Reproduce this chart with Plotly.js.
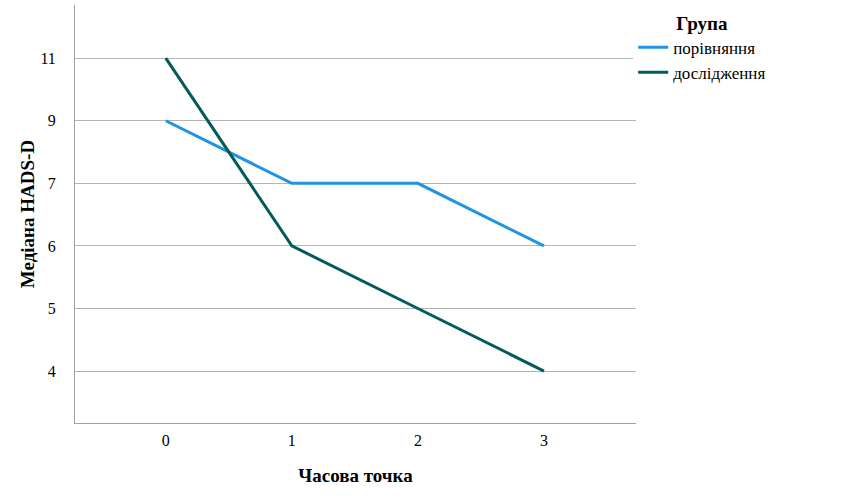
<!DOCTYPE html>
<html>
<head>
<meta charset="utf-8">
<script src="https://cdn.plot.ly/plotly-3.0.1.min.js"></script>
<style>
  html, body { margin: 0; padding: 0; background: #fff; }
  #chart { width: 850px; height: 500px; }
</style>
</head>
<body>
<div id="chart"></div>
<script>
// time points
var timePoints = [0, 1, 2, 3];
// median HADS-D
var comparison = ["9", "7", "7", "6"];
var research = ["11", "6", "5", "4"];
// y axis is categorical in the original (equal spacing)
var yCategories = ["4", "5", "6", "7", "9", "11"];

var serif = "'Liberation Serif', 'Times New Roman', serif";

var traces = [
    {
        x: timePoints,
        y: comparison,
        name: "порівняння",
        type: "scatter",
        mode: "lines",
        line: { color: "#1f93e6", width: 3 }
    },
    {
        x: timePoints,
        y: research,
        name: "дослідження",
        type: "scatter",
        mode: "lines",
        line: { color: "#005c55", width: 3 }
    }
];

var layout = {
    width: 850,
    height: 500,
    margin: { l: 75, r: 214, t: 5, b: 77 },
    paper_bgcolor: "#fff",
    plot_bgcolor: "#fff",
    font: { family: serif, size: 16, color: "#000" },
    showlegend: true,
    legend: {
        x: 0.995,
        y: 1,
        xanchor: "left",
        yanchor: "top",
        tracegroupgap: 0,
        font: { family: serif, size: 17, color: "#000" },
        title: { text: "<b>Група</b>", side: "top center", font: { family: serif, size: 19, color: "#000" } }
    },
    xaxis: {
        range: [-0.72, 3.73],
        tickvals: timePoints,
        tickfont: { family: serif, size: 16, color: "#000" },
        showgrid: false,
        zeroline: false,
        showline: true,
        linecolor: "#a0a0a0",
        linewidth: 1,
        ticks: "",
        ticklabelstandoff: 3,
        title: { text: "<b>Часова точка</b>", font: { family: serif, size: 19, color: "#000" }, standoff: 20 }
    },
    yaxis: {
        type: "category",
        categoryorder: "array",
        categoryarray: yCategories,
        range: [-0.83, 5.85],
        tickfont: { family: serif, size: 16, color: "#000" },
        showgrid: true,
        gridcolor: "#b4b4b4",
        gridwidth: 1,
        zeroline: false,
        showline: true,
        linecolor: "#a0a0a0",
        linewidth: 1,
        ticks: "",
        ticklabelstandoff: 15,
        title: { text: "<b>Медіана HADS-D</b>", font: { family: serif, size: 19, color: "#000" }, standoff: 0 }
    }
};

Plotly.newPlot("chart", traces, layout, { displayModeBar: false, staticPlot: true });
</script>
</body>
</html>
